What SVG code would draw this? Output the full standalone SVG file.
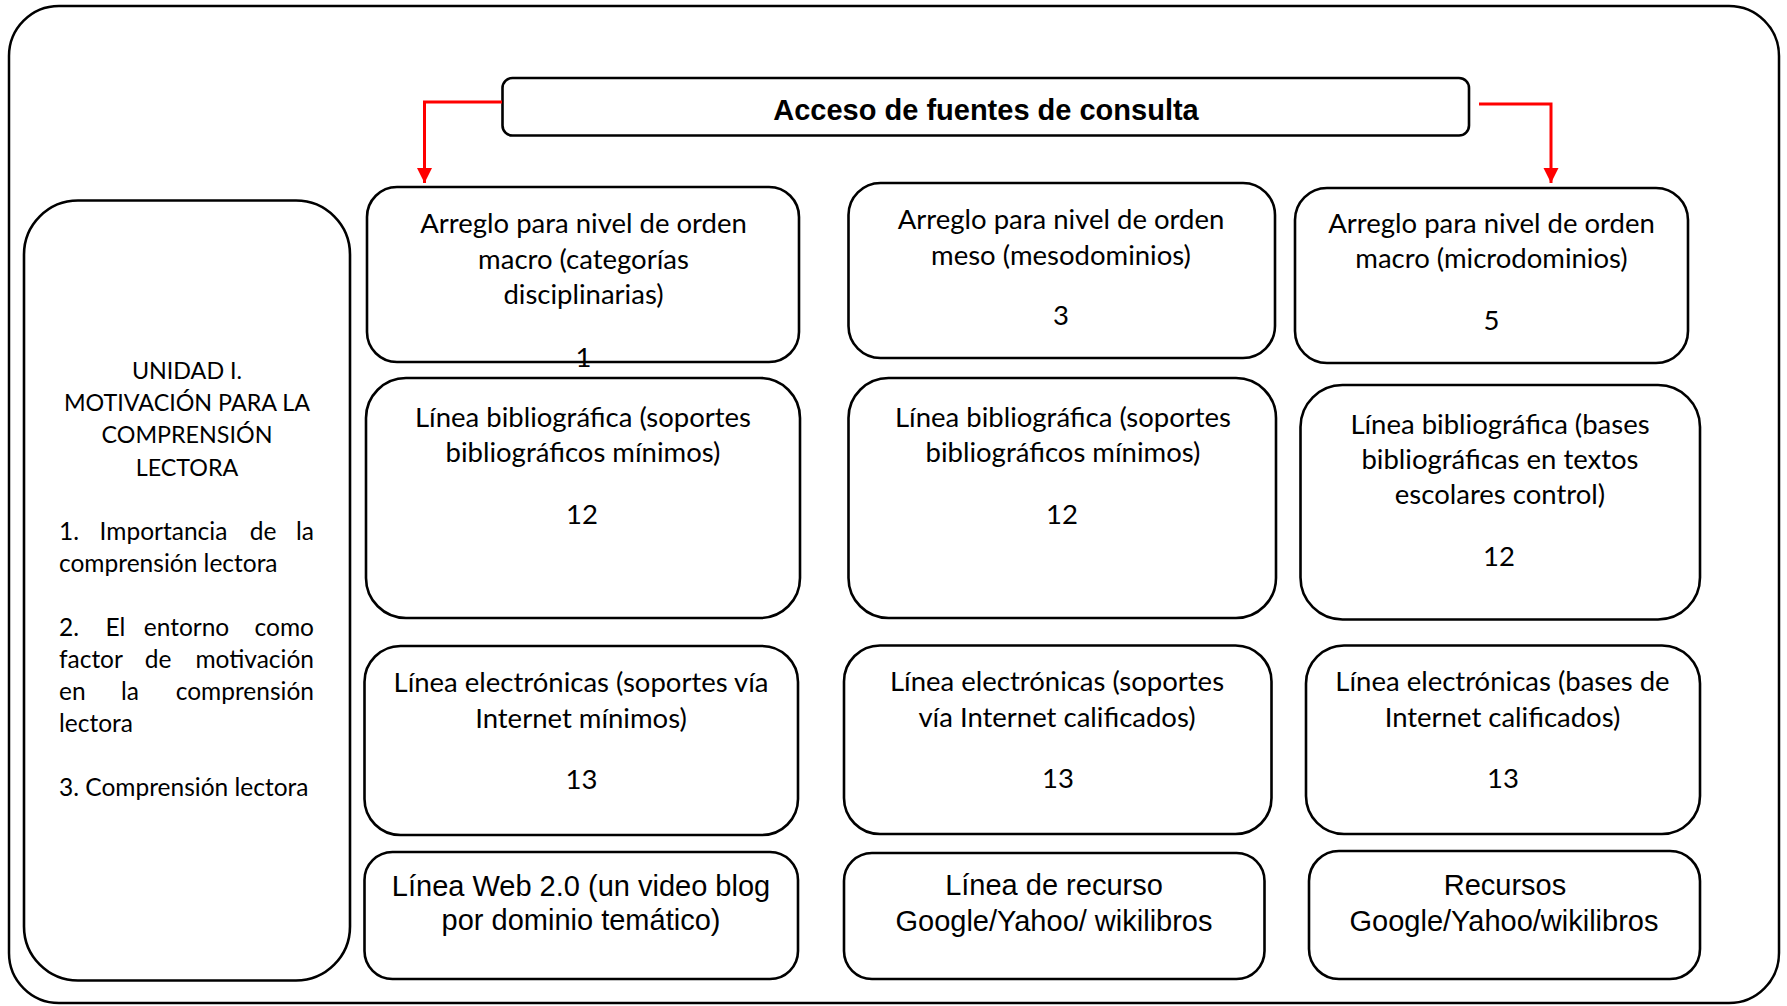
<svg xmlns="http://www.w3.org/2000/svg" width="1787" height="1006" viewBox="0 0 1787 1006">
<defs>
<style>
.frame{fill:#fff;stroke:#000;stroke-width:2.5}
.box{fill:#fff;stroke:#000;stroke-width:2.6}
.t{font-family:Lato,"Open Sans",sans-serif;font-size:27.5px;fill:#000;text-anchor:middle}
.ta{font-family:"Liberation Sans",Arial,sans-serif;font-size:29px;fill:#000;text-anchor:middle}
.tl{font-family:Lato,"Open Sans",sans-serif;font-size:24.5px;fill:#000}
.cap{font-size:23.3px}
.m{text-anchor:middle}
.e{text-anchor:end}
.title{font-family:"Liberation Sans",Arial,sans-serif;font-size:29px;font-weight:bold;fill:#000;text-anchor:middle}
.conn{fill:none;stroke:#ff0000;stroke-width:3}
</style>
<marker id="arr" markerUnits="userSpaceOnUse" markerWidth="16" markerHeight="16" refX="15" refY="7.5" orient="auto" viewBox="0 0 16 16">
<path d="M0,0 L15,7.5 L0,15 z" fill="#ff0000"/>
</marker>
</defs>
<rect x="0" y="0" width="1787" height="1006" fill="#fff"/>
<rect class="frame" x="9" y="6" width="1770" height="997" rx="50"/>

<g id="title">
<rect class="box" x="502.5" y="78" width="966.5" height="57.5" rx="10"/>
<text class="title" x="986" y="120">Acceso de fuentes de consulta</text>
</g>

<g id="connectors">
<path class="conn" d="M502,102 L424.5,102 L424.5,183" marker-end="url(#arr)"/>
<path class="conn" d="M1479,104 L1551,104 L1551,183" marker-end="url(#arr)"/>
</g>

<g id="unidad">
<rect class="box" x="24" y="200.5" width="326" height="780" rx="54"/>
<text class="tl cap m" x="187" y="379">UNIDAD I.</text>
<text class="tl cap m" x="187" y="411">MOTIVACIÓN PARA LA</text>
<text class="tl cap m" x="187" y="443">COMPRENSIÓN</text>
<text class="tl cap m" x="187" y="476">LECTORA</text>
<text class="tl" x="59" y="540">1.</text>
<text class="tl m" x="163.5" y="540">Importancia</text>
<text class="tl m" x="263" y="540">de</text>
<text class="tl e" x="314" y="540">la</text>
<text class="tl" x="59" y="572">comprensión lectora</text>
<text class="tl" x="59" y="636">2.</text>
<text class="tl m" x="115.5" y="636">El</text>
<text class="tl m" x="186.5" y="636">entorno</text>
<text class="tl e" x="314" y="636">como</text>
<text class="tl" x="59" y="668">factor</text>
<text class="tl m" x="158" y="668">de</text>
<text class="tl e" x="314" y="668">motivación</text>
<text class="tl" x="59" y="700">en</text>
<text class="tl m" x="130" y="700">la</text>
<text class="tl e" x="314" y="700">comprensión</text>
<text class="tl" x="59" y="732">lectora</text>
<text class="tl" x="59" y="796">3. Comprensión lectora</text>
</g>

<g id="a1">
<rect class="box" x="367" y="187" width="432" height="175" rx="30"/>
<text class="t" x="583.5" y="233">Arreglo para nivel de orden</text>
<text class="t" x="583.5" y="269">macro (categorías</text>
<text class="t" x="583.5" y="304">disciplinarias)</text>
<text class="t" x="583.5" y="367">1</text>
</g>
<g id="a2">
<rect class="box" x="848.5" y="183" width="426.5" height="175" rx="32"/>
<text class="t" x="1061" y="229">Arreglo para nivel de orden</text>
<text class="t" x="1061" y="265">meso (mesodominios)</text>
<text class="t" x="1061" y="325">3</text>
</g>
<g id="a3">
<rect class="box" x="1295" y="188" width="393" height="175" rx="32"/>
<text class="t" x="1491.5" y="233">Arreglo para nivel de orden</text>
<text class="t" x="1491.5" y="268">macro (microdominios)</text>
<text class="t" x="1491.5" y="330">5</text>
</g>

<g id="b1">
<rect class="box" x="366" y="378" width="434" height="240" rx="40"/>
<text class="t" x="583" y="427">Línea bibliográfica (soportes</text>
<text class="t" x="583" y="462">bibliográficos mínimos)</text>
<text class="t" x="582" y="524">12</text>
</g>
<g id="b2">
<rect class="box" x="848.5" y="378" width="427.5" height="240" rx="40"/>
<text class="t" x="1063" y="427">Línea bibliográfica (soportes</text>
<text class="t" x="1063" y="462">bibliográficos mínimos)</text>
<text class="t" x="1062" y="524">12</text>
</g>
<g id="b3">
<rect class="box" x="1300.5" y="385" width="399.5" height="234.5" rx="42"/>
<text class="t" x="1500" y="434">Línea bibliográfica (bases</text>
<text class="t" x="1500" y="469">bibliográficas en textos</text>
<text class="t" x="1500" y="504">escolares control)</text>
<text class="t" x="1499" y="566">12</text>
</g>

<g id="c1">
<rect class="box" x="364.5" y="646" width="433.5" height="189" rx="36"/>
<text class="t" x="581" y="692">Línea electrónicas (soportes vía</text>
<text class="t" x="581" y="728">Internet mínimos)</text>
<text class="t" x="581.5" y="789">13</text>
</g>
<g id="c2">
<rect class="box" x="844" y="645.5" width="427.5" height="188.5" rx="36"/>
<text class="t" x="1057" y="691">Línea electrónicas (soportes</text>
<text class="t" x="1057" y="727">vía Internet calificados)</text>
<text class="t" x="1058" y="788">13</text>
</g>
<g id="c3">
<rect class="box" x="1306" y="645.5" width="394" height="188.5" rx="38"/>
<text class="t" x="1502.5" y="691">Línea electrónicas (bases de</text>
<text class="t" x="1502.5" y="727">Internet calificados)</text>
<text class="t" x="1503" y="788">13</text>
</g>

<g id="d1">
<rect class="box" x="364.5" y="852" width="433.5" height="127" rx="28"/>
<text class="ta" x="581" y="896">Línea Web 2.0 (un video blog</text>
<text class="ta" x="581" y="930">por dominio temático)</text>
</g>
<g id="d2">
<rect class="box" x="844" y="853" width="420.5" height="126" rx="28"/>
<text class="ta" x="1054" y="895">Línea de recurso</text>
<text class="ta" x="1054" y="931">Google/Yahoo/ wikilibros</text>
</g>
<g id="d3">
<rect class="box" x="1309" y="851" width="391" height="128" rx="30"/>
<text class="ta" x="1505" y="895">Recursos</text>
<text class="ta" x="1504" y="931">Google/Yahoo/wikilibros</text>
</g>
</svg>
